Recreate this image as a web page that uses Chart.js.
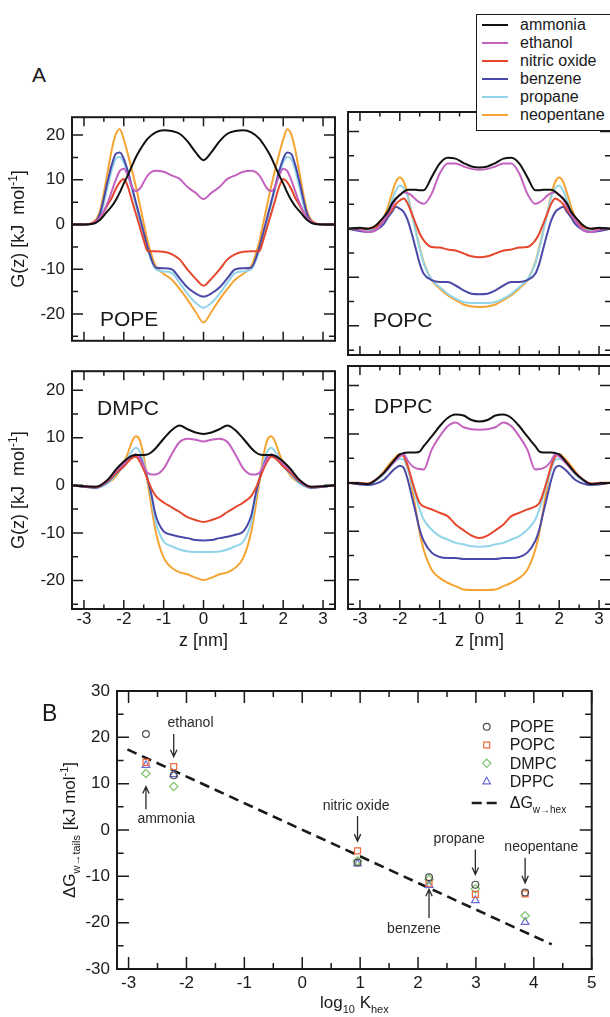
<!DOCTYPE html>
<html>
<head>
<meta charset="utf-8">
<title>Solute free energy profiles</title>
<script src="https://cdn.jsdelivr.net/npm/chart.js@4.4.1/dist/chart.umd.min.js"></script>
<style>
  html, body { margin: 0; padding: 0; background: #fff; }
  body { position: relative; width: 610px; height: 1017px; overflow: hidden;
         font-family: 'Liberation Sans', Arial, sans-serif; color: #1a1a1a; }
  canvas { position: absolute; }
  .tag { position: absolute; line-height: 1; white-space: nowrap; z-index: 3; }
  #legendA { position: absolute; left: 476px; top: 14px; width: 150px; height: 115px;
             border: 1.5px solid #1a1a1a; background: #fff; z-index: 5; }
  #legendA .row { position: absolute; left: 0; width: 150px; height: 18px; }
  #legendA .swatch { position: absolute; left: 5px; top: 8px; width: 26px; height: 2px; }
  #legendA .name { position: absolute; left: 43px; top: 0; font-size: 16px; line-height: 18px; white-space: nowrap; }
</style>
</head>
<body>

<canvas id="cPOPE" width="345" height="258" style="left:0;top:100px"></canvas>
<canvas id="cPOPC" width="290" height="258" style="left:340px;top:100px"></canvas>
<canvas id="cDMPC" width="345" height="310" style="left:0;top:354px"></canvas>
<canvas id="cDPPC" width="290" height="310" style="left:340px;top:354px"></canvas>
<canvas id="cB" width="610" height="377" style="left:0;top:640px"></canvas>

<div class="tag" style="left:32px;top:64px;font-size:21px">A</div>
<div class="tag" style="left:100px;top:308px;font-size:21px">POPE</div>
<div class="tag" style="left:373px;top:309px;font-size:21px">POPC</div>
<div class="tag" style="left:97px;top:397px;font-size:21px">DMPC</div>
<div class="tag" style="left:374px;top:395px;font-size:21px">DPPC</div>
<div class="tag" style="left:42px;top:702px;font-size:23px">B</div>
<div id="legendA"></div>

<script>
const FONT = "'Liberation Sans', Arial, sans-serif";
const INK = '#1a1a1a';
Chart.defaults.font.family = FONT;
Chart.defaults.color = INK;

// --- Panel A: G(z) profiles across the bilayer ---
const zGrid = [-3.3,-3.0,-2.8,-2.6,-2.4,-2.3,-2.2,-2.1,-2.0,-1.9,-1.8,-1.7,-1.6,-1.5,-1.4,-1.2,-1.0,-0.8,-0.6,-0.4,-0.2,0,
               0.2,0.4,0.6,0.8,1.0,1.2,1.4,1.5,1.6,1.7,1.8,1.9,2.0,2.1,2.2,2.3,2.4,2.6,2.8,3.0,3.3];
const zGridDMPC = [-3.3,-3.0,-2.7,-2.4,-2.2,-2.0,-1.9,-1.8,-1.7,-1.6,-1.5,-1.4,-1.3,-1.2,-1.0,-0.8,-0.6,-0.4,-0.2,0,
                   0.2,0.4,0.6,0.8,1.0,1.2,1.3,1.4,1.5,1.6,1.7,1.8,1.9,2.0,2.2,2.4,2.7,3.0,3.3];

const speciesNames = ['ammonia', 'ethanol', 'nitric oxide', 'benzene', 'propane', 'neopentane'];
const speciesColors = ['#111111', '#c462c0', '#e5472c', '#4b49a8', '#92d5ea', '#f5a433'];

// POPE
const popeAmmonia = [0,0,0.1,1.0,3.1,4.1,5.5,7.2,9.2,11,13,15,16.6,18,19.2,20.6,21.1,20.9,20.3,18.6,16.2,14.4,
                     16.2,18.6,20.3,20.9,21.1,20.6,19.2,18,16.6,15,13,11,9.2,7.2,5.5,4.1,3.1,1.0,0.1,0,0];
const popeEthanol = [0,0,0.2,1.5,5,7.5,10,12,12.5,11,8.5,7.5,8,9.5,11,12,11.8,11,10.2,8.4,7.1,5.7,
                     7.1,8.4,10.2,11,11.8,12,11,9.5,8,7.5,8.5,11,12.5,12,10,7.5,5,1.5,0.2,0,0];
const popeNitric = [0,0,0.3,1.5,4.5,6,8,9.5,10.2,8.5,5.5,2.5,-0.5,-3.5,-6,-6,-6.1,-6.6,-7.8,-10.1,-12.1,-13.7,
                    -12.1,-10.1,-7.8,-6.6,-6.1,-6,-6,-3.5,-0.5,2.5,5.5,8.5,10.2,9.5,8,6,4.5,1.5,0.3,0,0];
const popeBenzene = [0,0,0.2,2.4,9.9,13.4,15.8,16.1,14.7,12,8.6,5.1,1.7,-1.7,-5.1,-9.6,-9.8,-10,-12,-14.1,-15.4,-16.1,
                     -15.4,-14.1,-12,-10,-9.8,-9.6,-5.1,-1.7,1.7,5.1,8.6,12,14.7,16.1,15.8,13.4,9.9,2.4,0.2,0,0];
const popePropane = [0,0,0.1,1.7,8.6,12.3,14.7,15.1,13.8,11.3,8,4.5,1,-2.4,-5.8,-10,-10.5,-10.8,-13,-15.5,-17.5,-18.6,
                     -17.5,-15.5,-13,-10.8,-10.5,-10,-5.8,-2.4,1,4.5,8,11.3,13.8,15.1,14.7,12.3,8.6,1.7,0.1,0,0];
const popeNeopentane = [0,-0.1,0.3,3,12,16.8,20.2,21.3,19,15.8,12.3,8.6,4.5,0.3,-3.8,-9.3,-11,-12.3,-14.4,-16.8,-19.5,-21.9,
                        -19.5,-16.8,-14.4,-12.3,-11,-9.3,-3.8,0.3,4.5,8.6,12.3,15.8,19,21.3,20.2,16.8,12,3,0.3,-0.1,0];

// POPC
const popcAmmonia = [0,0.2,0,0.7,2.4,3.5,5.1,6.2,6.9,7.6,8,8,8,7.9,7.9,10.6,13.4,14.6,14.4,13.5,12.8,12.6,
                     12.8,13.5,14.4,14.6,13.4,10.6,7.9,7.9,8,8,8,7.6,6.9,6.2,5.1,3.5,2.4,0.7,0,0.2,0];
const popcEthanol = [0,-0.3,-0.7,-0.3,1.7,3,4.5,6,7,7.5,7.3,6.8,6,5.4,5.1,7.2,11.3,13.4,13.4,12.8,12.3,12.1,
                     12.3,12.8,13.4,13.4,11.3,7.2,5.1,5.4,6,6.8,7.3,7.5,7,6,4.5,3,1.7,-0.3,-0.7,-0.3,0];
const popcNitric = [0,0,0,0.3,1.7,2.8,3.8,5,5.8,6.2,5.1,3.1,1,-1,-2.4,-3.8,-3.9,-4.3,-4.5,-5.1,-5.7,-5.9,
                    -5.7,-5.1,-4.5,-4.3,-3.9,-3.8,-2.4,-1,1,3.1,5.1,6.2,5.8,5,3.8,2.8,1.7,0.3,0,0,0];
const popcBenzene = [0,-0.5,-0.7,-0.3,1,2.3,3.4,4.5,4.1,3.4,1.7,-1,-4.1,-7.2,-9.3,-10.6,-11,-11,-11.7,-12.7,-13.4,-13.5,
                     -13.4,-12.7,-11.7,-11,-11,-10.6,-9.3,-7.2,-4.1,-1,1.7,3.4,4.1,4.5,3.4,2.3,1,-0.3,-0.7,-0.5,0];
const popcPropane = [0,0,-0.3,0,1.7,3.5,5.8,7.8,8.9,8.3,6.5,3.1,-0.7,-4.1,-7.2,-10.5,-12,-13.4,-14.4,-15.1,-15.3,-15.3,
                     -15.3,-15.1,-14.4,-13.4,-12,-10.5,-7.2,-4.1,-0.7,3.1,6.5,8.3,8.9,7.8,5.8,3.5,1.7,0,-0.3,0,0];
const popcNeopentane = [0,0,-0.2,0.3,2.4,4.5,7.2,9.6,10.5,9.6,6.9,3.1,-0.3,-3.8,-6.9,-10.6,-12.3,-13.7,-14.7,-15.6,-16,-16.1,
                        -16,-15.6,-14.7,-13.7,-12.3,-10.6,-6.9,-3.8,-0.3,3.1,6.9,9.6,10.5,9.6,7.2,4.5,2.4,0.3,-0.2,0,0];

// DMPC (own z grid, peaks sit closer to the centre)
const dmpcAmmonia = [0,-0.2,-0.3,1.2,3.3,5,5.7,6.2,6.4,6.4,6.4,6.5,7,7.8,9.8,11.6,12.6,11.8,11.1,10.8,
                     11.1,11.8,12.6,11.6,9.8,7.8,7,6.5,6.4,6.4,6.4,6.2,5.7,5,3.3,1.2,-0.3,-0.2,0];
const dmpcEthanol = [0,-0.2,-0.3,1.2,3,4.5,5.5,6.2,6.5,5.7,4,2.6,2.3,2.3,3.5,6.5,9.1,9.8,9.6,9.2,
                     9.6,9.8,9.1,6.5,3.5,2.3,2.3,2.6,4,5.7,6.5,6.2,5.5,4.5,3,1.2,-0.3,-0.2,0];
const dmpcNitric = [0,-0.2,-0.4,1,2.6,4,4.9,5.7,6,5,3.3,1.2,-0.8,-2.2,-3.6,-4.6,-5.6,-6.7,-7.3,-7.7,
                    -7.3,-6.7,-5.6,-4.6,-3.6,-2.2,-0.8,1.2,3.3,5,6,5.7,4.9,4,2.6,1,-0.4,-0.2,0];
const dmpcBenzene = [0,-0.3,-0.5,0.8,2.5,4,5.1,6,6.5,6,4,1.2,-2.2,-6.3,-9.7,-10.4,-10.8,-11.1,-11.5,-11.6,
                     -11.5,-11.1,-10.8,-10.4,-9.7,-6.3,-2.2,1.2,4,6,6.5,6,5.1,4,2.5,0.8,-0.5,-0.3,0];
const dmpcPropane = [0,-0.3,-0.6,0.5,2.3,4.3,5.8,7.1,7.9,7.1,4.7,1.2,-2.9,-7.7,-11.8,-12.8,-13.5,-13.9,-14,-14,
                     -14,-13.9,-13.5,-12.8,-11.8,-7.7,-2.9,1.2,4.7,7.1,7.9,7.1,5.8,4.3,2.3,0.5,-0.6,-0.3,0];
const dmpcNeopentane = [0,-0.3,-0.5,0.5,1.9,4.7,6.7,9.1,10.3,9.5,6,0.5,-4.9,-9.7,-15.2,-17.3,-18.3,-18.7,-19.4,-19.9,
                        -19.4,-18.7,-18.3,-17.3,-15.2,-9.7,-4.9,0.5,6,9.5,10.3,9.1,6.7,4.7,1.9,0.5,-0.5,-0.3,0];

// DPPC
const dppcAmmonia = [0,-0.2,-0.3,0.6,2,3,4,5,5.8,6.1,6.2,6.2,6.2,6.4,7.5,9.5,11.6,13.3,14,13.8,12.9,12.6,
                     12.9,13.8,14,13.3,11.6,9.5,7.5,6.4,6.2,6.2,6.2,6.1,5.8,5,4,3,2,0.6,-0.3,-0.2,0];
const dppcEthanol = [0,-0.2,-0.3,0.6,2,2.8,3.7,4.6,5.4,5.8,4.5,3.5,3,2.8,2.7,6.8,9.5,11.6,12.4,11.4,11,10.9,
                     11,11.4,12.4,11.6,9.5,6.8,2.7,2.8,3,3.5,4.5,5.8,5.4,4.6,3.7,2.8,2,0.6,-0.3,-0.2,0];
const dppcNitric = [0,0,-0.2,0.6,2,3,4,5,5.8,5.4,3.4,0.6,-2.1,-4.2,-4.9,-5.5,-6.2,-6.9,-8.6,-9.8,-10.9,-11.4,
                    -10.9,-9.8,-8.6,-6.9,-6.2,-5.5,-4.9,-4.2,-2.1,0.6,3.4,5.4,5.8,5,4,3,2,0.6,-0.2,0,0];
const dppcBenzene = [0,-0.4,-0.5,-0.2,0.6,1.4,2.3,3,3.5,3,0.6,-2.8,-6.2,-9.7,-12,-14.4,-15.3,-15.5,-15.5,-15.7,-15.7,-15.7,
                     -15.7,-15.7,-15.5,-15.5,-15.3,-14.4,-12,-9.7,-6.2,-2.8,0.6,3,3.5,3,2.3,1.4,0.6,-0.2,-0.5,-0.4,0];
const dppcPropane = [0,-0.2,-0.3,0.4,1.7,2.7,3.7,4.5,4.9,4.7,2.7,0,-2.8,-5.5,-7.6,-9.7,-11,-11.7,-12.4,-12.7,-13.1,-13.2,
                     -13.1,-12.7,-12.4,-11.7,-11,-9.7,-7.6,-5.5,-2.8,0,2.7,4.7,4.9,4.5,3.7,2.7,1.7,0.4,-0.3,-0.2,0];
const dppcNeopentane = [0,-0.3,-0.3,0.6,2.3,3.4,4.4,5.3,5.9,5.8,3.4,-0.8,-5.5,-10.3,-13.8,-17.9,-19.6,-20.6,-21.3,-22,-22.1,-22.1,
                        -22.1,-22,-21.3,-20.6,-19.6,-17.9,-13.8,-10.3,-5.5,-0.8,3.4,5.8,5.9,5.3,4.4,3.4,2.3,0.6,-0.3,-0.3,0];

const zTicks = [-3, -2, -1, 0, 1, 2, 3];
const zMinorTicks = [-2.5, -1.5, -0.5, 0.5, 1.5, 2.5];
const gTicks = [-20, -10, 0, 10, 20];
const gMinorTicks = [-25, -15, -5, 5, 15];

// --- Panel B: transfer free energy vs hexadecane partition coefficient ---
const soluteLogK = [-2.70, -2.22, 0.955, 2.19, 2.99, 3.85];  // ammonia .. neopentane
const dgPOPE = [20.7, 11.8, -7.0, -10.2, -11.8, -13.5];
const dgPOPC = [14.6, 13.7, -4.5, -11.5, -13.9, -13.8];
const dgDMPC = [12.2, 9.4, -6.7, -10.7, -12.7, -18.5];
const dgDPPC = [14.0, 12.0, -7.3, -11.9, -15.2, -19.9];
const fitLogK = [-3.02, 4.31];
const fitDG = [17.4, -24.7];

const membraneNames = ['POPE', 'POPC', 'DMPC', 'DPPC'];
const membraneColors = ['#4d4d4d', '#f26a3d', '#7ac36a', '#6b6bd0'];
const membraneMarkers = ['circle', 'rect', 'rectRot', 'triangle'];
const membraneRadius = [3.4, 4.2, 4.2, 4.4];

const kTicks = [-3, -2, -1, 0, 1, 2, 3, 4, 5];
const kMinorTicks = [-2.5, -1.5, -0.5, 0.5, 1.5, 2.5, 3.5, 4.5];
const dgTicks = [-30, -20, -10, 0, 10, 20, 30];
const dgMinorTicks = [-25, -15, -5, 5, 15, 25];

// text labels + arrows in panel B (data coordinates)
const annotations = [
  { label: 'ethanol',      tx: -1.93, ty: 23.1,  ax: -2.22, from: 20.7, to: 15.8 },
  { label: 'ammonia',      tx: -2.35, ty: 2.3,   ax: -2.70, from: 4.5,  to: 9.4 },
  { label: 'nitric oxide', tx: 0.93,  ty: 5.2,   ax: 0.955, from: 3.0,  to: -2.4 },
  { label: 'benzene',      tx: 1.93,  ty: -21.5, ax: 2.19,  from: -19,  to: -12.8 },
  { label: 'propane',      tx: 2.71,  ty: -2.0,  ax: 2.99,  from: -4.2, to: -9.6 },
  { label: 'neopentane',   tx: 4.13,  ty: -3.7,  ax: 3.85,  from: -6,   to: -11.4 }
];

// draws text made of normal / sub / sup pieces, cap-centred on (x, y)
function richText(ctx, parts, x, y, angle, size, align) {
  const small = Math.round(size * 0.65);
  ctx.save();
  ctx.translate(x, y);
  ctx.rotate(angle);
  ctx.fillStyle = INK;
  ctx.textAlign = 'left';
  ctx.textBaseline = 'alphabetic';
  const pieces = parts.map(([t, k]) => {
    const fs = k ? small : size;
    ctx.font = fs + 'px ' + FONT;
    return { t, k, fs, w: ctx.measureText(t).width };
  });
  const total = pieces.reduce((s, p) => s + p.w, 0);
  let cx = align === 'left' ? 0 : -total / 2;
  const base = size * 0.36;
  pieces.forEach(p => {
    ctx.font = p.fs + 'px ' + FONT;
    const dy = p.k === 'sub' ? size * 0.3 : p.k === 'sup' ? -size * 0.42 : 0;
    ctx.fillText(p.t, cx, base + dy);
    cx += p.w;
  });
  ctx.restore();
}

// box around the plot area with inward ticks on all four sides
function frame(c) {
  return {
    id: 'frame',
    afterDraw(chart) {
      const { ctx, chartArea: a, scales: { x, y } } = chart;
      ctx.save();
      ctx.strokeStyle = INK;
      ctx.lineWidth = 1.5;
      ctx.beginPath();
      const vt = (v, len) => {
        const p = x.getPixelForValue(v);
        ctx.moveTo(p, a.bottom); ctx.lineTo(p, a.bottom - len);
        ctx.moveTo(p, a.top); ctx.lineTo(p, a.top + len);
      };
      const ht = (v, len) => {
        const p = y.getPixelForValue(v);
        ctx.moveTo(a.left, p); ctx.lineTo(a.left + len, p);
        ctx.moveTo(a.right, p); ctx.lineTo(a.right - len, p);
      };
      c.xMajor.forEach(v => vt(v, c.xLen));
      c.xMinor.forEach(v => vt(v, c.xLen * 0.5));
      c.yMajor.forEach(v => ht(v, c.yLen));
      c.yMinor.forEach(v => ht(v, c.yLen * 0.55));
      ctx.stroke();
      ctx.lineWidth = 2;
      ctx.strokeRect(a.left, a.top, a.right - a.left, a.bottom - a.top);
      ctx.restore();
    }
  };
}

function titles(c) {
  return {
    id: 'titles',
    afterDraw(chart) {
      const { ctx, chartArea: a } = chart;
      if (c.y) richText(ctx, c.y, a.left - c.yOff, (a.top + a.bottom) / 2, -Math.PI / 2, c.size);
      if (c.x) richText(ctx, c.x, (a.left + a.right) / 2, a.bottom + c.xOff, 0, c.size);
    }
  };
}

const gTitle = [['G(z) [kJ  mol', ''], ['-1', 'sup'], [']', '']];
const zTitle = [['z [nm]', '']];

function profileChart(id, z, profiles, c) {
  const datasets = profiles.map((vals, i) => ({
    label: speciesNames[i],
    data: z.map((zz, j) => ({ x: zz, y: vals[j] })),
    borderColor: speciesColors[i],
    borderWidth: 2,
    pointRadius: 0,
    cubicInterpolationMode: 'monotone'
  }));
  return new Chart(document.getElementById(id), {
    type: 'line',
    data: { datasets },
    options: {
      responsive: false,
      animation: false,
      events: [],
      layout: { padding: c.pad },
      plugins: { legend: { display: false }, tooltip: { enabled: false } },
      scales: {
        x: {
          type: 'linear', min: -3.3, max: 3.3,
          grid: { display: false, drawTicks: false }, border: { display: false },
          ticks: { display: c.xLabels, padding: 0, autoSkip: false, maxRotation: 0, font: { size: 17 } },
          afterBuildTicks: s => { s.ticks = zTicks.map(v => ({ value: v })); },
          afterFit: s => { s.height = c.xH; }
        },
        y: {
          min: -26, max: 24,
          grid: { display: false, drawTicks: false }, border: { display: false },
          ticks: { display: c.yLabels, padding: 7, autoSkip: false, font: { size: 17 } },
          afterBuildTicks: s => { s.ticks = gTicks.map(v => ({ value: v })); },
          afterFit: s => { s.width = c.yW; }
        }
      }
    },
    plugins: [
      frame({ xMajor: zTicks, xMinor: zMinorTicks, yMajor: gTicks, yMinor: gMinorTicks, xLen: 9, yLen: 11 }),
      titles({ y: c.yLabels ? gTitle : null, x: c.xLabels ? zTitle : null, yOff: 54, xOff: 31, size: 18 })
    ]
  });
}

profileChart('cPOPE', zGrid,
  [popeAmmonia, popeEthanol, popeNitric, popeBenzene, popePropane, popeNeopentane],
  { pad: { top: 12, right: 10, bottom: 3, left: 0 }, yW: 72, xH: 0, xLabels: false, yLabels: true });
profileChart('cPOPC', zGrid,
  [popcAmmonia, popcEthanol, popcNitric, popcBenzene, popcPropane, popcNeopentane],
  { pad: { top: 12, right: 19, bottom: 3, left: 0 }, yW: 8, xH: 0, xLabels: false, yLabels: false });
profileChart('cDMPC', zGridDMPC,
  [dmpcAmmonia, dmpcEthanol, dmpcNitric, dmpcBenzene, dmpcPropane, dmpcNeopentane],
  { pad: { top: 12, right: 10, bottom: 0, left: 0 }, yW: 72, xH: 55, xLabels: true, yLabels: true });
profileChart('cDPPC', zGrid,
  [dppcAmmonia, dppcEthanol, dppcNitric, dppcBenzene, dppcPropane, dppcNeopentane],
  { pad: { top: 12, right: 19, bottom: 0, left: 0 }, yW: 8, xH: 55, xLabels: true, yLabels: false });

// legend for panel A (overlaps the POPC frame like in the figure)
const legendA = document.getElementById('legendA');
speciesNames.forEach((name, i) => {
  const row = document.createElement('div');
  row.className = 'row';
  row.style.top = (0.5 + 18 * i) + 'px';
  row.innerHTML = `<span class="swatch" style="background:${speciesColors[i]}"></span><span class="name">${name}</span>`;
  legendA.appendChild(row);
});

// --- Panel B chart ---
const annotate = {
  id: 'annotate',
  afterDatasetsDraw(chart) {
    const { ctx, scales: { x, y } } = chart;
    ctx.save();
    ctx.font = '14px ' + FONT;
    ctx.textAlign = 'center';
    ctx.textBaseline = 'middle';
    ctx.fillStyle = '#2a2a2a';
    ctx.strokeStyle = '#2a2a2a';
    ctx.lineWidth = 1.3;
    annotations.forEach(an => {
      ctx.fillText(an.label, x.getPixelForValue(an.tx), y.getPixelForValue(an.ty));
      const px = x.getPixelForValue(an.ax);
      const y0 = y.getPixelForValue(an.from), y1 = y.getPixelForValue(an.to);
      const dir = Math.sign(y1 - y0);
      ctx.beginPath();
      ctx.moveTo(px, y0); ctx.lineTo(px, y1);
      ctx.moveTo(px - 3.2, y1 - dir * 7); ctx.lineTo(px, y1); ctx.lineTo(px + 3.2, y1 - dir * 7);
      ctx.stroke();
    });
    ctx.restore();
  }
};

const legendB = {
  id: 'legendB',
  afterDraw(chart) {
    const { ctx, chartArea: a } = chart;
    const rows = [35.7, 54, 72.3, 90.7];
    ctx.save();
    membraneNames.forEach((m, i) => {
      const yy = a.top + rows[i];
      ctx.strokeStyle = membraneColors[i];
      ctx.fillStyle = 'rgba(0,0,0,0)';
      ctx.lineWidth = 1.2;
      Chart.helpers.drawPoint(ctx, { pointStyle: membraneMarkers[i], radius: membraneRadius[i], rotation: 0, borderWidth: 1.2 },
        a.right - 105, yy);
      ctx.fillStyle = INK;
      ctx.font = '16px ' + FONT;
      ctx.textAlign = 'left';
      ctx.textBaseline = 'middle';
      ctx.fillText(m, a.right - 82, yy + 1);
    });
    const yy = a.top + 112;
    ctx.setLineDash([10, 5]);
    ctx.lineWidth = 2.6;
    ctx.strokeStyle = INK;
    ctx.beginPath();
    ctx.moveTo(a.right - 120, yy); ctx.lineTo(a.right - 93, yy);
    ctx.stroke();
    ctx.setLineDash([]);
    ctx.restore();
    richText(ctx, [['ΔG', ''], ['w→hex', 'sub']], a.right - 82, yy - 1, 0, 16, 'left');
  }
};

const dgSets = [dgPOPE, dgPOPC, dgDMPC, dgDPPC];
new Chart(document.getElementById('cB'), {
  type: 'scatter',
  data: {
    datasets: dgSets.map((vals, i) => ({
      label: membraneNames[i],
      data: soluteLogK.map((k, j) => ({ x: k, y: vals[j] })),
      pointStyle: membraneMarkers[i],
      pointRadius: membraneRadius[i],
      borderColor: membraneColors[i],
      backgroundColor: 'rgba(0,0,0,0)',
      pointBorderWidth: 1.2
    })).concat([{
      label: 'ΔG w→hex',
      data: fitLogK.map((k, j) => ({ x: k, y: fitDG[j] })),
      showLine: true,
      borderColor: INK,
      borderWidth: 2.6,
      borderDash: [10, 6],
      pointRadius: 0
    }])
  },
  options: {
    responsive: false,
    animation: false,
    events: [],
    layout: { padding: { top: 51, right: 18.3, bottom: 0, left: 0 } },
    plugins: { legend: { display: false }, tooltip: { enabled: false } },
    scales: {
      x: {
        type: 'linear', min: -3.2, max: 5,
        grid: { display: false, drawTicks: false }, border: { display: false },
        ticks: { padding: 4, autoSkip: false, maxRotation: 0, font: { size: 17 } },
        afterBuildTicks: s => { s.ticks = kTicks.map(v => ({ value: v })); },
        afterFit: s => { s.height = 48; }
      },
      y: {
        min: -30, max: 30,
        grid: { display: false, drawTicks: false }, border: { display: false },
        ticks: { padding: 7, autoSkip: false, font: { size: 17 } },
        afterBuildTicks: s => { s.ticks = dgTicks.map(v => ({ value: v })); },
        afterFit: s => { s.width = 117; }
      }
    }
  },
  plugins: [
    frame({ xMajor: kTicks, xMinor: kMinorTicks, yMajor: dgTicks, yMinor: dgMinorTicks, xLen: 12, yLen: 12 }),
    titles({
      y: [['ΔG', ''], ['w→tails', 'sub'], [' [kJ mol', ''], ['-1', 'sup'], [']', '']],
      x: [['log', ''], ['10', 'sub'], [' K', ''], ['hex', 'sub']],
      yOff: 48, xOff: 33, size: 17
    }),
    annotate,
    legendB
  ]
});
</script>
</body>
</html>
